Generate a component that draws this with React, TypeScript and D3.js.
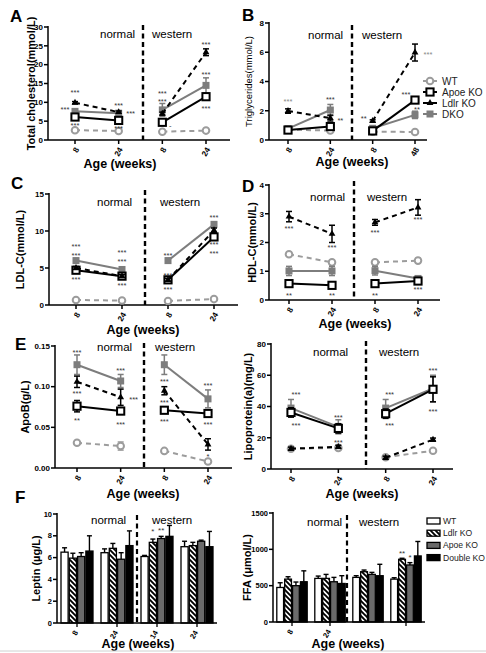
import React from "react";
import * as d3 from "d3";

// ---------- shared categories ----------
const ageLabels = ["8", "24", "8", "24"];
const ageLabelsB = ["8", "24", "8", "48"];
const legendLine = ["WT", "Apoe KO", "Ldlr KO", "DKO"];
const legendBar = ["WT", "Ldlr KO", "Apoe KO", "Double KO"];
const barGroups = ["8", "24", "14", "24"];
const barGroupsFFA = ["8", "24", "", ""];

// ---------- A: total cholesterol ----------
const tcWT = [2.6, 2.4, 2.2, 2.5];
const tcApoe = [6.1, 5.2, 4.7, 11.5];
const tcLdlr = [9.9, 7.4, 7.0, 23.3];
const tcDKO = [7.6, 7.1, 8.0, 14.5];
const tcWTErr = [0.2, 0.2, 0.2, 0.2];
const tcApoeErr = [0.4, 0.4, 0.3, 0.6];
const tcLdlrErr = [0.3, 0.3, 0.4, 0.9];
const tcDKOErr = [0.7, 0.7, 1.7, 2.0];
const tcTicks = [0, 5, 10, 15, 20, 25, 30];

// ---------- B: triglycerides ----------
const tgWT = [0.7, 0.65, 0.57, 0.55];
const tgApoe = [0.68, 0.92, 0.62, 2.73];
const tgLdlr = [1.98, 1.5, 1.3, 5.98];
const tgDKO = [0.78, 2.05, 0.8, 1.72];
const tgWTErr = [0.05, 0.05, 0.05, 0.05];
const tgApoeErr = [0.05, 0.1, 0.05, 0.1];
const tgLdlrErr = [0.15, 0.2, 0.08, 0.58];
const tgDKOErr = [0.08, 0.38, 0.08, 0.25];
const tgTicks = [0, 2, 4, 6, 8];

// ---------- C: LDL-C ----------
const ldlWT = [0.68, 0.6, 0.55, 0.8];
const ldlApoe = [4.7, 3.9, 3.4, 9.2];
const ldlLdlr = [5.0, 3.9, 3.4, 10.1];
const ldlDKO = [6.0, 4.8, 6.0, 10.9];
const ldlWTErr = [0.1, 0.1, 0.1, 0.1];
const ldlApoeErr = [0.2, 0.2, 0.2, 0.3];
const ldlLdlrErr = [0.2, 0.2, 0.2, 0.3];
const ldlDKOErr = [0.3, 0.3, 0.3, 0.3];
const ldlTicks = [0, 5, 10, 15];

// ---------- D: HDL-C ----------
const hdlWT = [1.59, 1.31, 1.31, 1.37];
const hdlApoe = [0.57, 0.51, 0.57, 0.66];
const hdlLdlr = [2.9, 2.3, 2.7, 3.22];
const hdlDKO = [1.01, 1.01, 1.02, 0.75];
const hdlWTErr = [0.07, 0.07, 0.07, 0.08];
const hdlApoeErr = [0.03, 0.03, 0.03, 0.03];
const hdlLdlrErr = [0.18, 0.3, 0.1, 0.27];
const hdlDKOErr = [0.16, 0.16, 0.15, 0.05];
const hdlTicks = [0, 1, 2, 3, 4];

// ---------- E: ApoB ----------
const apobWT = [0.031, 0.027, 0.021, 0.008];
const apobApoe = [0.076, 0.07, 0.071, 0.067];
const apobLdlr = [0.106, 0.087, 0.095, 0.029];
const apobDKO = [0.127, 0.107, 0.127, 0.085];
const apobWTErr = [0.002, 0.005, 0.002, 0.002];
const apobApoeErr = [0.007, 0.004, 0.002, 0.003];
const apobLdlrErr = [0.007, 0.01, 0.005, 0.007];
const apobDKOErr = [0.012, 0.008, 0.012, 0.011];
const apobTicks = [0, 0.05, 0.1, 0.15];

// ---------- Lipoprotein(a) ----------
const lpWT = [13.0, 13.5, 7.5, 11.7];
const lpApoe = [36.2, 26.0, 35.4, 51.0];
const lpLdlr = [13.0, 14.2, 7.2, 18.8];
const lpDKO = [39.0, 27.0, 39.0, 51.5];
const lpWTErr = [0.8, 0.8, 0.8, 0.8];
const lpApoeErr = [3, 3, 3, 8];
const lpLdlrErr = [1, 1, 1, 1];
const lpDKOErr = [5.5, 4.5, 5.5, 8.5];
const lpTicks = [0, 20, 40, 60, 80];

// ---------- F: leptin / FFA (order WT, Ldlr KO, Apoe KO, Double KO) ----------
const leptinWT = [6.5, 6.45, 6.1, 7.0];
const leptinLdlr = [5.95, 6.85, 7.4, 7.1];
const leptinApoe = [6.1, 5.85, 7.75, 7.5];
const leptinDKO = [6.6, 7.1, 7.95, 7.0];
const leptinWTErr = [0.4, 0.35, 0.1, 0.5];
const leptinLdlrErr = [0.45, 0.45, 0.3, 0.3];
const leptinApoeErr = [0.35, 0.6, 0.2, 0.1];
const leptinDKOErr = [1.4, 1.35, 1.0, 1.4];
const leptinTicks = [0, 2, 4, 6, 8, 10];

const ffaWT = [475, 600, 614, 590];
const ffaLdlr = [590, 600, 692, 863];
const ffaApoe = [500, 554, 655, 785];
const ffaDKO = [554, 530, 637, 909];
const ffaWTErr = [65, 32, 23, 19];
const ffaLdlrErr = [33, 55, 23, 14];
const ffaApoeErr = [50, 60, 28, 32];
const ffaDKOErr = [150, 107, 157, 199];
const ffaTicks = [0, 500, 1000, 1500];

// ---------- significance marks (group index, value) ----------
const tcStars = [
  { i: 0, v: 13.0, t: "***" }, { i: 0, v: 8.5, t: "***", dx: -10 }, { i: 0, v: 4.4, t: "***" },
  { i: 1, v: 9.6, t: "***" }, { i: 1, v: 7.4, t: "***", dx: 12 }, { i: 1, v: 3.6, t: "***" },
  { i: 2, v: 12.8, t: "***" }, { i: 2, v: 10.7, t: "***" }, { i: 2, v: 4.4, t: "-", dx: 8 },
  { i: 3, v: 25.8, t: "***" }, { i: 3, v: 17.8, t: "***" }, { i: 3, v: 8.8, t: "***" },
];
const tgStars = [
  { i: 0, v: 2.75, t: "***", c: "#888" }, { i: 1, v: 2.9, t: "***" }, { i: 1, v: 1.45, t: "**", dx: 10 },
  { i: 2, v: 1.55, t: "**", dx: -9 }, { i: 3, v: 3.2, t: "***", dx: -9 }, { i: 3, v: 2.2, t: "**", dx: 2 },
  { i: 3, v: 5.95, t: "***", dx: 13, c: "#888" },
];
const ldlStars = [
  { i: 0, v: 8.1, t: "***" }, { i: 0, v: 6.9, t: "***" }, { i: 0, v: 3.6, t: "***" },
  { i: 1, v: 7.3, t: "***" }, { i: 1, v: 6.1, t: "***" }, { i: 1, v: 2.9, t: "***" },
  { i: 2, v: 6.9, t: "***" }, { i: 2, v: 4.2, t: "***" }, { i: 2, v: 2.3, t: "***" },
  { i: 3, v: 12.0, t: "***" }, { i: 3, v: 8.4, t: "***" }, { i: 3, v: 7.2, t: "***" },
];
const hdlStars = [
  { i: 0, v: 2.55, t: "***" }, { i: 1, v: 1.9, t: "***" }, { i: 2, v: 2.42, t: "***" }, { i: 3, v: 2.85, t: "***" },
  { i: 0, v: 0.22, t: "**" }, { i: 1, v: 0.22, t: "**" }, { i: 2, v: 0.22, t: "**" }, { i: 3, v: 0.42, t: "***" },
];
const apobStars = [
  { i: 0, v: 0.144, t: "***" }, { i: 0, v: 0.0935, t: "***" }, { i: 0, v: 0.061, t: "**" },
  { i: 1, v: 0.122, t: "***" }, { i: 1, v: 0.086, t: "***", dx: 13 }, { i: 1, v: 0.056, t: "***" },
  { i: 2, v: 0.108, t: "***" }, { i: 2, v: 0.082, t: "***" }, { i: 2, v: 0.059, t: "***" },
  { i: 3, v: 0.104, t: "***" }, { i: 3, v: 0.055, t: "***" }, { i: 3, v: 0.016, t: "*" },
];
const lpStars = [
  { i: 0, v: 49, t: "***", dx: 5 }, { i: 0, v: 29, t: "***", dx: 5 },
  { i: 1, v: 34, t: "***" }, { i: 1, v: 18, t: "***" },
  { i: 2, v: 49, t: "***", dx: 4 }, { i: 2, v: 29, t: "***", dx: 4 },
  { i: 3, v: 64, t: "***" }, { i: 3, v: 38, t: "***" },
];
const leptinStars = [{ g: 2, s: 1, v: 8.15, t: "*" }, { g: 2, s: 2, v: 8.3, t: "**" }];
const ffaStars = [{ g: 3, s: 1, v: 910, t: "**" }, { g: 3, s: 2, v: 855, t: "*" }];

// ---------- styles ----------
const FONT = "'Liberation Sans', Arial, Helvetica, sans-serif";
const GRAY = "#7d7d7d";
const LIGHT = "#9c9c9c";
const STYLE: Record<string, { stroke: string; dash?: string; marker: string }> = {
  WT: { stroke: LIGHT, dash: "5,4", marker: "circle" },
  Apoe: { stroke: "#000", marker: "open" },
  Ldlr: { stroke: "#000", dash: "5,4", marker: "tri" },
  DKO: { stroke: GRAY, marker: "gray" },
};

function Marker({ kind, cx, cy }: { kind: string; cx: number; cy: number }) {
  if (kind === "circle")
    return <circle cx={cx} cy={cy} r={3.3} fill="#fff" stroke={LIGHT} strokeWidth={2} />;
  if (kind === "open")
    return <rect x={cx - 3.6} y={cy - 3.6} width={7.2} height={7.2} fill="#fff" stroke="#000" strokeWidth={2} />;
  if (kind === "gray")
    return <rect x={cx - 3.5} y={cy - 3.5} width={7} height={7} fill={GRAY} />;
  const sym = d3.symbol().type(d3.symbolTriangle).size(20)();
  return <path d={sym || ""} transform={`translate(${cx},${cy})`} fill="#000" />;
}

type Series = { key: string; values: number[]; errs: number[] };
type Star = { i: number; v: number; t: string; dx?: number; c?: string };
type Layout = {
  x0: number; x1: number; yTop: number; yBot: number; p0: number; p1: number;
  div: number; divTop: number; yMax: number; ticks: number[]; fmt: (d: number) => string;
  xLabels: string[]; yLabel: string; yLabelX: number; yLabelBold: boolean; yLabelSize: number;
  envY: number; normalX: number; westernX: number; ageX: number; ageY: number;
  letter?: string; letterX?: number; letterY?: number;
};

function LinePanel({ L, series, stars }: { L: Layout; series: Series[]; stars: Star[] }) {
  const y = d3.scaleLinear().domain([0, L.yMax]).range([L.yBot, L.yTop]);
  const x = d3.scalePoint<number>().domain([0, 1, 2, 3]).range([L.p0, L.p1]);
  const line = d3.line<number[]>().x((d) => d[0]).y((d) => d[1]);
  const segs = [[0, 1], [2, 3]];
  return (
    <g fontFamily={FONT}>
      {L.letter && (
        <text x={L.letterX} y={L.letterY} fontSize={17} fontWeight="bold">{L.letter}</text>
      )}
      <line x1={L.x0} x2={L.x0} y1={L.yTop - 1} y2={L.yBot} stroke="#000" strokeWidth={1.5} />
      {L.ticks.map((t) => (
        <g key={t}>
          <line x1={L.x0 - 4} x2={L.x0} y1={y(t)} y2={y(t)} stroke="#000" strokeWidth={1.5} />
          <text x={L.x0 - 5} y={y(t)} dy="0.35em" textAnchor="end" fontSize={8} fontWeight="bold">{L.fmt(t)}</text>
        </g>
      ))}
      <text transform={`translate(${L.yLabelX},${(L.yTop + L.yBot) / 2}) rotate(-90)`} textAnchor="middle"
        dy="0.35em" fontSize={L.yLabelSize} fontWeight={L.yLabelBold ? "bold" : "normal"}>{L.yLabel}</text>
      <line x1={L.x0} x2={L.x1} y1={L.yBot} y2={L.yBot} stroke="#000" strokeWidth={1.5} />
      {[0, 1, 2, 3].map((i) => (
        <g key={i}>
          <line x1={x(i)} x2={x(i)} y1={L.yBot} y2={L.yBot + 4} stroke="#000" strokeWidth={1.5} />
          <text transform={`translate(${(x(i) as number) + 2},${L.yBot + 8}) rotate(-60)`} textAnchor="end"
            dy="0.35em" fontSize={8} fontWeight="bold">{L.xLabels[i]}</text>
        </g>
      ))}
      <text x={L.ageX} y={L.ageY} textAnchor="middle" fontSize={12.5} fontWeight="bold">Age (weeks)</text>
      <line x1={L.div} x2={L.div} y1={L.divTop} y2={L.yBot} stroke="#000" strokeWidth={2.4} strokeDasharray="5,3.5" />
      <text x={L.normalX} y={L.envY} fontSize={11.5}>normal</text>
      <text x={L.westernX} y={L.envY} fontSize={11.5}>western</text>
      {series.map((s) => {
        const st = STYLE[s.key];
        return (
          <g key={s.key}>
            {segs.map(([a, b]) => (
              <path key={a} d={line([[x(a) as number, y(s.values[a])], [x(b) as number, y(s.values[b])]]) || ""}
                fill="none" stroke={st.stroke} strokeWidth={2} strokeDasharray={st.dash} />
            ))}
            {s.values.map((v, i) =>
              s.errs[i] > 0 ? (
                <g key={"e" + i} stroke={st.stroke} strokeWidth={1.5}>
                  <line x1={x(i)} x2={x(i)} y1={y(v + s.errs[i])} y2={y(v - s.errs[i])} />
                  <line x1={(x(i) as number) - 3} x2={(x(i) as number) + 3} y1={y(v + s.errs[i])} y2={y(v + s.errs[i])} />
                  <line x1={(x(i) as number) - 3} x2={(x(i) as number) + 3} y1={y(v - s.errs[i])} y2={y(v - s.errs[i])} />
                </g>
              ) : null
            )}
            {s.values.map((v, i) => (
              <Marker key={"m" + i} kind={st.marker} cx={x(i) as number} cy={y(v)} />
            ))}
          </g>
        );
      })}
      {stars.map((s, k) => (
        <text key={k} x={(x(s.i) as number) + (s.dx || 0)} y={y(s.v)} dy="0.55em" textAnchor="middle"
          fontSize={7.5} fill={s.c || "#333"}>{s.t}</text>
      ))}
    </g>
  );
}

type BarLayout = {
  x0: number; x1: number; yTop: number; yBot: number; div: number; divTop: number;
  yMax: number; ticks: number[]; groups: string[]; tickShown: boolean[];
  yLabel: string; yLabelX: number; envY: number; normalX: number; westernX: number; ageX: number; ageY: number;
  letter?: string; letterX?: number; letterY?: number;
};
const BAR_FILL = ["#fff", "url(#hatch)", "#6a6a6a", "#000"];

function BarPanel({ L, data, errs, stars }: { L: BarLayout; data: number[][]; errs: number[][]; stars: { g: number; s: number; v: number; t: string }[] }) {
  const y = d3.scaleLinear().domain([0, L.yMax]).range([L.yBot, L.yTop]);
  const gx = d3.scaleBand<number>().domain([0, 1, 2, 3]).range([L.x0, L.x1]).paddingInner(0.2).paddingOuter(0.1);
  const sx = d3.scaleBand<number>().domain([0, 1, 2, 3]).range([0, gx.bandwidth()]).paddingInner(0.14);
  return (
    <g fontFamily={FONT}>
      {L.letter && <text x={L.letterX} y={L.letterY} fontSize={17} fontWeight="bold">{L.letter}</text>}
      <text x={L.normalX} y={L.envY} fontSize={11.5}>normal</text>
      <text x={L.westernX} y={L.envY} fontSize={11.5}>western</text>
      {data.map((vals, s) =>
        vals.map((v, g) => {
          const bx = (gx(g) as number) + (sx(s) as number);
          const w = sx.bandwidth();
          const cx = bx + w / 2;
          const top = y(v + errs[s][g]);
          return (
            <g key={s + "-" + g}>
              <line x1={cx} x2={cx} y1={top} y2={y(v)} stroke="#000" strokeWidth={1.4} />
              <line x1={cx - 2.5} x2={cx + 2.5} y1={top} y2={top} stroke="#000" strokeWidth={1.4} />
              <rect x={bx} y={y(v)} width={w} height={L.yBot - y(v)} fill={BAR_FILL[s]} stroke="#000" strokeWidth={1.3} />
            </g>
          );
        })
      )}
      {stars.map((st, k) => (
        <text key={k} x={(gx(st.g) as number) + (sx(st.s) as number) + sx.bandwidth() / 2} y={y(st.v)}
          textAnchor="middle" fontSize={8} fill="#333">{st.t}</text>
      ))}
      <line x1={L.div} x2={L.div} y1={L.divTop} y2={L.yBot} stroke="#000" strokeWidth={2.2} strokeDasharray="5,3.5" />
      <line x1={L.x0} x2={L.x0} y1={L.yTop - 1} y2={L.yBot} stroke="#000" strokeWidth={1.5} />
      {L.ticks.map((t) => (
        <g key={t}>
          <line x1={L.x0 - 4} x2={L.x0} y1={y(t)} y2={y(t)} stroke="#000" strokeWidth={1.5} />
          <text x={L.x0 - 5} y={y(t)} dy="0.35em" textAnchor="end" fontSize={7.5} fontWeight="bold">{t}</text>
        </g>
      ))}
      <text transform={`translate(${L.yLabelX},${(L.yTop + L.yBot) / 2}) rotate(-90)`} textAnchor="middle"
        dy="0.35em" fontSize={11} fontWeight="bold">{L.yLabel}</text>
      <line x1={L.x0} x2={L.x1} y1={L.yBot} y2={L.yBot} stroke="#000" strokeWidth={1.5} />
      {L.groups.map((gl, g) => {
        const cx = (gx(g) as number) + gx.bandwidth() / 2;
        return (
          <g key={g}>
            {L.tickShown[g] && <line x1={cx} x2={cx} y1={L.yBot} y2={L.yBot + 4} stroke="#000" strokeWidth={1.3} />}
            <text transform={`translate(${cx - 1},${L.yBot + 8}) rotate(-60)`} textAnchor="end" dy="0.35em"
              fontSize={7.5} fontWeight="bold">{gl}</text>
          </g>
        );
      })}
      <text x={L.ageX} y={L.ageY} textAnchor="middle" fontSize={12.5} fontWeight="bold">Age (weeks)</text>
    </g>
  );
}

const mk = (a: number[], b: number[], c: number[], d: number[], ea: number[], eb: number[], ec: number[], ed: number[]): Series[] => [
  { key: "WT", values: a, errs: ea },
  { key: "DKO", values: d, errs: ed },
  { key: "Apoe", values: b, errs: eb },
  { key: "Ldlr", values: c, errs: ec },
];

const f0 = (d: number) => String(d);
const f2 = (d: number) => d.toFixed(2);

export default function App() {
  const LA: Layout = { x0: 48, x1: 230, yTop: 27, yBot: 140, p0: 75, p1: 206, div: 143, divTop: 25, yMax: 30, ticks: tcTicks, fmt: f0,
    xLabels: ageLabels, yLabel: "Total cholesterol(mmol/L)", yLabelX: 31, yLabelBold: true, yLabelSize: 11,
    envY: 38, normalX: 100, westernX: 152, ageX: 120, ageY: 168, letter: "A", letterX: 10, letterY: 22 };
  const LB: Layout = { x0: 269, x1: 427, yTop: 23, yBot: 140, p0: 288, p1: 415, div: 352, divTop: 25, yMax: 8, ticks: tgTicks, fmt: f0,
    xLabels: ageLabelsB, yLabel: "Triglycerides(mmol/L)", yLabelX: 249, yLabelBold: false, yLabelSize: 9.5,
    envY: 39, normalX: 308, westernX: 362, ageX: 352, ageY: 166, letter: "B", letterX: 242, letterY: 21 };
  const LC: Layout = { x0: 49, x1: 238, yTop: 194, yBot: 305, p0: 76, p1: 214, div: 145, divTop: 190, yMax: 15, ticks: ldlTicks, fmt: f0,
    xLabels: ageLabels, yLabel: "LDL-C(mmol/L)", yLabelX: 20, yLabelBold: true, yLabelSize: 11,
    envY: 206, normalX: 97, westernX: 160, ageX: 143, ageY: 334, letter: "C", letterX: 11, letterY: 189 };
  const LD: Layout = { x0: 269, x1: 440, yTop: 185, yBot: 300, p0: 289, p1: 418, div: 354, divTop: 181, yMax: 4, ticks: hdlTicks, fmt: f0,
    xLabels: ageLabels, yLabel: "HDL-C(mmol/L)", yLabelX: 252, yLabelBold: true, yLabelSize: 11,
    envY: 201, normalX: 310, westernX: 367, ageX: 355, ageY: 328, letter: "D", letterX: 242, letterY: 192 };
  const LE: Layout = { x0: 55, x1: 232, yTop: 346, yBot: 468, p0: 77, p1: 208, div: 144, divTop: 343, yMax: 0.15, ticks: apobTicks, fmt: f2,
    xLabels: ageLabels, yLabel: "ApoB(g/L)", yLabelX: 25, yLabelBold: true, yLabelSize: 11,
    envY: 351, normalX: 97, westernX: 155, ageX: 143, ageY: 498, letter: "E", letterX: 15, letterY: 350 };
  const LL: Layout = { x0: 271, x1: 453, yTop: 344, yBot: 469, p0: 291, p1: 433, div: 366, divTop: 341, yMax: 80, ticks: lpTicks, fmt: f0,
    xLabels: ageLabels, yLabel: "Lipoprotein(a)(mg/L)", yLabelX: 248, yLabelBold: true, yLabelSize: 11,
    envY: 356, normalX: 313, westernX: 379, ageX: 362, ageY: 498 };
  const LF: BarLayout = { x0: 57, x1: 217, yTop: 514, yBot: 623, div: 137, divTop: 515, yMax: 10, ticks: leptinTicks,
    groups: barGroups, tickShown: [true, true, true, true], yLabel: "Leptin (µg/L)", yLabelX: 36,
    envY: 524, normalX: 91, westernX: 152, ageX: 138, ageY: 648, letter: "F", letterX: 15, letterY: 503 };
  const LG: BarLayout = { x0: 273, x1: 425, yTop: 513, yBot: 622, div: 347, divTop: 515, yMax: 1500, ticks: ffaTicks,
    groups: barGroupsFFA, tickShown: [true, true, false, true], yLabel: "FFA (μmol/L)", yLabelX: 247,
    envY: 526, normalX: 307, westernX: 359, ageX: 348, ageY: 648 };

  const legendYs = d3.range(4).map((i) => 81 + i * 11);
  const legendKeys = ["WT", "Apoe", "Ldlr", "DKO"];
  const barLegendYs = d3.range(4).map((i) => 521 + i * 12.2);

  return (
    <svg width={486} height={653} style={{ position: "absolute", left: 0, top: 0, background: "#fff" }}>
      <defs>
        <pattern id="hatch" width={5} height={5} patternUnits="userSpaceOnUse">
          <rect width={5} height={5} fill="#fff" />
          <path d="M0,0 L5,5 M-1,4 L1,6 M4,-1 L6,1" stroke="#000" strokeWidth={1.9} />
        </pattern>
      </defs>
      <rect width={486} height={653} fill="#fff" />
      <LinePanel L={LA} series={mk(tcWT, tcApoe, tcLdlr, tcDKO, tcWTErr, tcApoeErr, tcLdlrErr, tcDKOErr)} stars={tcStars} />
      <LinePanel L={LB} series={mk(tgWT, tgApoe, tgLdlr, tgDKO, tgWTErr, tgApoeErr, tgLdlrErr, tgDKOErr)} stars={tgStars} />
      <LinePanel L={LC} series={mk(ldlWT, ldlApoe, ldlLdlr, ldlDKO, ldlWTErr, ldlApoeErr, ldlLdlrErr, ldlDKOErr)} stars={ldlStars} />
      <LinePanel L={LD} series={mk(hdlWT, hdlApoe, hdlLdlr, hdlDKO, hdlWTErr, hdlApoeErr, hdlLdlrErr, hdlDKOErr)} stars={hdlStars} />
      <LinePanel L={LE} series={mk(apobWT, apobApoe, apobLdlr, apobDKO, apobWTErr, apobApoeErr, apobLdlrErr, apobDKOErr)} stars={apobStars} />
      <LinePanel L={LL} series={mk(lpWT, lpApoe, lpLdlr, lpDKO, lpWTErr, lpApoeErr, lpLdlrErr, lpDKOErr)} stars={lpStars} />
      <g fontFamily={FONT}>
        {legendKeys.map((k, i) => {
          const st = STYLE[k];
          return (
            <g key={k}>
              <line x1={423} x2={437} y1={legendYs[i]} y2={legendYs[i]} stroke={st.stroke} strokeWidth={2} />
              <Marker kind={st.marker} cx={430} cy={legendYs[i]} />
              <text x={442} y={legendYs[i]} dy="0.35em" fontSize={10} fill="#222">{legendLine[i]}</text>
            </g>
          );
        })}
      </g>
      <BarPanel L={LF} data={[leptinWT, leptinLdlr, leptinApoe, leptinDKO]}
        errs={[leptinWTErr, leptinLdlrErr, leptinApoeErr, leptinDKOErr]} stars={leptinStars} />
      <BarPanel L={LG} data={[ffaWT, ffaLdlr, ffaApoe, ffaDKO]}
        errs={[ffaWTErr, ffaLdlrErr, ffaApoeErr, ffaDKOErr]} stars={ffaStars} />
      <g fontFamily={FONT}>
        {legendBar.map((name, i) => (
          <g key={name}>
            <rect x={427} y={barLegendYs[i] - 3} width={13} height={6} fill={BAR_FILL[i]} stroke="#000" strokeWidth={1.3} />
            <text x={443} y={barLegendYs[i]} dy="0.35em" fontSize={8.6} fill="#222">{name}</text>
          </g>
        ))}
      </g>
      <line x1={0} x2={486} y1={651} y2={651} stroke="#d0d0d0" strokeWidth={1} />
    </svg>
  );
}
